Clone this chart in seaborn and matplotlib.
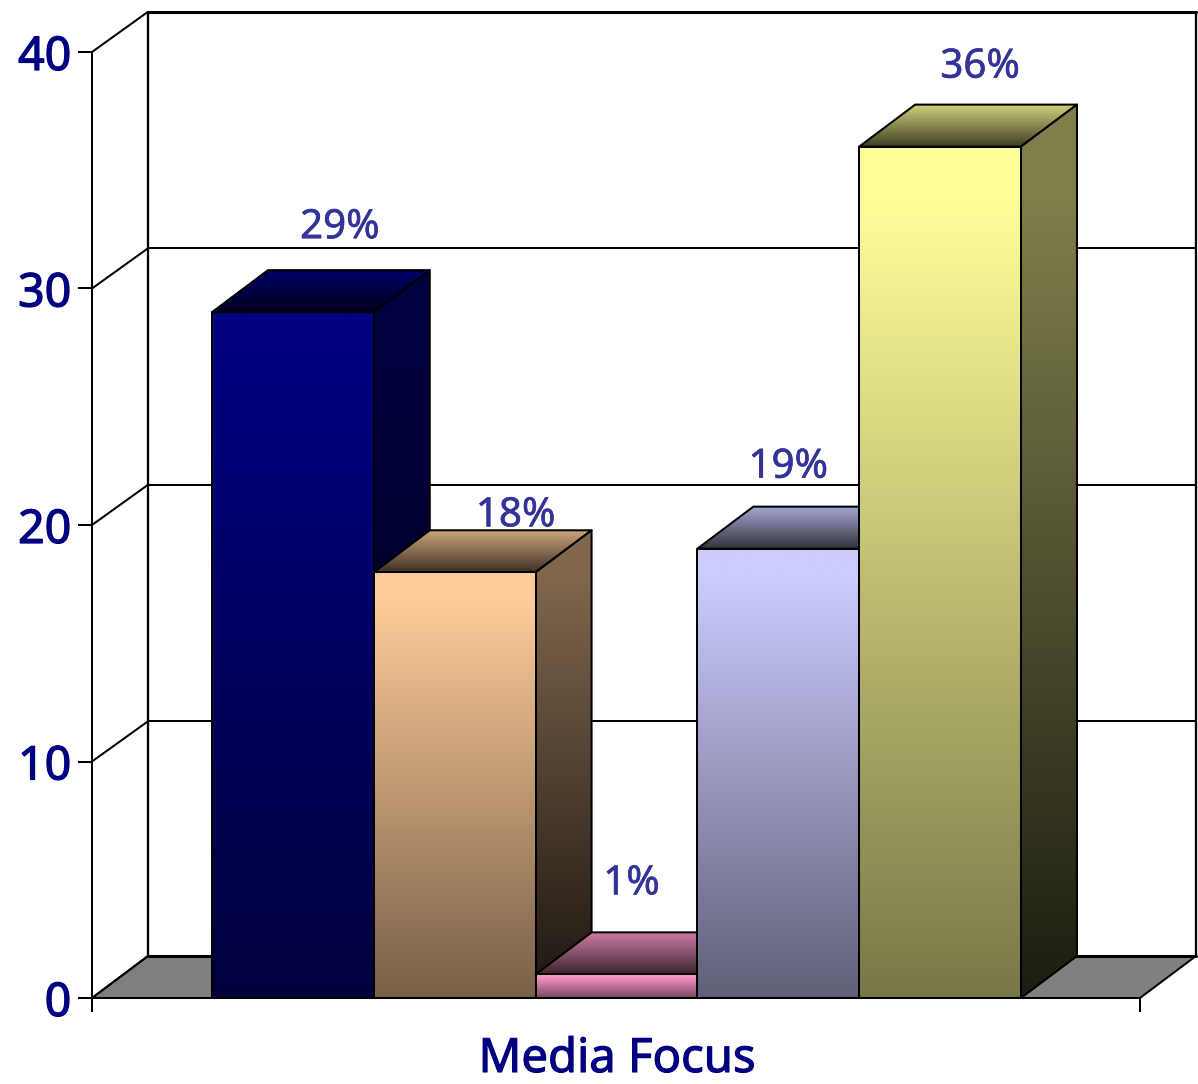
import numpy as np
import pandas as pd
import matplotlib
matplotlib.use("Agg")
import matplotlib.pyplot as plt
import matplotlib.patheffects as pe
from matplotlib.colors import to_rgb
from matplotlib.patches import Polygon
import seaborn as sns

# Chart data
series_names = ["Series A", "Series B", "Series C", "Series D", "Series E"]
series_values = [29, 18, 1, 19, 36]
value_labels = ["29%", "18%", "1%", "19%", "36%"]
axis_title = "Media Focus"
y_ticks = [0, 10, 20, 30, 40]

# Styling
front_colors = ["#000080", "#FFCC99", "#FF99CC", "#CCCCFF", "#FFFF99"]
label_offsets_px = [(47, 74), (61, 46), (15, 80), (10, 71), (40, 69)]
DEPTH_X = 0.346    # depth of the 3D box, in category units
DEPTH_Y = 1.776    # depth of the 3D box, in value units
WALL_RISE = 1.70   # rise of the gridlines on the back wall, in value units
LINE = 1.45
X_MIN, X_MAX = -1.2417, 5.2355

sns.set_style("white")
plt.rcParams["font.family"] = ["Noto Sans", "DejaVu Sans"]

fig = plt.figure(figsize=(11.98, 10.84), dpi=100)
ax = fig.add_axes([92 / 1198, (1084 - 998) / 1084, 1048 / 1198, 946 / 1084])

frame = pd.DataFrame({"series": series_names, "value": series_values})
sns.barplot(data=frame, x="series", y="value", hue="series", palette=front_colors,
            width=1, saturation=1, legend=False, ax=ax)


def thicken(width, color):
    return [pe.withStroke(linewidth=width, foreground=color)]


def gradient_fill(outline, extent, top_rgb, bottom_rgb, zorder, hold=0.0):
    """Fill a polygon with a vertical colour ramp; the first `hold` of it stays flat."""
    ramp = np.clip((np.linspace(0, 1, 256) - hold) / (1 - hold), 0, 1)[:, None, None]
    pixels = (1 - ramp) * np.array(top_rgb)[None, None, :] + ramp * np.array(bottom_rgb)[None, None, :]
    image = ax.imshow(pixels, extent=extent, origin="upper", aspect="auto",
                      interpolation="bilinear", zorder=zorder)
    image.set_clip_box(fig.bbox)
    image.set_clip_path(outline)


def face(points, zorder):
    outline = Polygon(points, closed=True, facecolor="none", edgecolor="black",
                      linewidth=LINE, joinstyle="round", zorder=zorder + 0.05, clip_on=False)
    ax.add_patch(outline)
    return outline


# Floor and back wall
floor = Polygon([(X_MIN, 0), (X_MAX, 0), (X_MAX + DEPTH_X, DEPTH_Y), (X_MIN + DEPTH_X, DEPTH_Y)],
                closed=True, facecolor="#808080", edgecolor="black", linewidth=LINE,
                zorder=1, clip_on=False)
ax.add_patch(floor)
back_left, back_right = X_MIN + DEPTH_X, X_MAX + DEPTH_X
for tick in y_ticks:
    rise = WALL_RISE if tick else DEPTH_Y
    ax.plot([X_MIN, back_left], [tick, tick + rise], color="black", lw=LINE, zorder=1.2, clip_on=False)
    width = 2.2 if tick in (0, 40) else LINE
    ax.plot([back_left, back_right], [tick + rise] * 2, color="black", lw=width, zorder=1.2, clip_on=False)
for x_pos in (back_left, back_right):
    ax.plot([x_pos, x_pos], [DEPTH_Y, y_ticks[-1] + WALL_RISE], color="black", lw=LINE + 0.2,
            zorder=1.2, clip_on=False)

# Boxes: each one gets a front, top and side face
for i, (bar, value, color) in enumerate(zip(ax.patches, series_values, front_colors)):
    base = np.array(to_rgb(color))
    z = 3 + i
    left, right = bar.get_x(), bar.get_x() + bar.get_width()

    bar.set_facecolor("none")
    bar.set_edgecolor("black")
    bar.set_linewidth(LINE)
    bar.set_zorder(z + 0.3)
    front = Polygon([(left, 0), (right, 0), (right, value), (left, value)], closed=True,
                    transform=ax.transData, facecolor="none", edgecolor="none")
    ax.add_patch(front)
    gradient_fill(front, (left, right, 0, value), base, base * 0.47, z + 0.2, hold=0.06)

    side = face([(right, 0), (right + DEPTH_X, DEPTH_Y), (right + DEPTH_X, value + DEPTH_Y), (right, value)], z + 0.1)
    gradient_fill(side, (right, right + DEPTH_X, 0, value + DEPTH_Y), base * 0.5, base * 0.11, z + 0.1, hold=0.1)

    top = face([(left, value), (right, value), (right + DEPTH_X, value + DEPTH_Y), (left + DEPTH_X, value + DEPTH_Y)], z)
    gradient_fill(top, (left, right + DEPTH_X, value, value + DEPTH_Y), base * 0.78, base * 0.24, z, hold=0.08)

    ax.annotate(value_labels[i], xy=(i, value), xytext=label_offsets_px[i],
                textcoords="offset pixels", ha="center", va="baseline",
                fontsize=29, color="#333399", zorder=20, annotation_clip=False,
                path_effects=thicken(0.45, "#333399"))

# Front axes
ax.set_xlim(X_MIN, X_MAX)
ax.set_ylim(y_ticks[0], y_ticks[-1])
ax.set_yticks(y_ticks)
ax.set_yticklabels([str(t) for t in y_ticks], fontsize=33.5, color="#000080",
                    path_effects=thicken(0.9, "#000080"))
ax.set_xticks([X_MIN, X_MAX])
ax.set_xticklabels(["", ""])
ax.tick_params(axis="both", length=10, width=LINE, color="black", left=True, bottom=True, pad=5)
ax.set_xlabel("")
ax.set_ylabel("")
ax.patch.set_alpha(0)
for name, spine in ax.spines.items():
    spine.set_visible(name in ("left", "bottom"))
    spine.set_color("black")
    spine.set_linewidth(LINE)
    spine.set_zorder(15)

fig.text(617 / 1198, (1084 - 1072) / 1084, axis_title, ha="center", va="baseline",
         fontsize=34, color="#000080", path_effects=thicken(0.8, "#000080"))

fig.savefig("out.png", dpi=100)
